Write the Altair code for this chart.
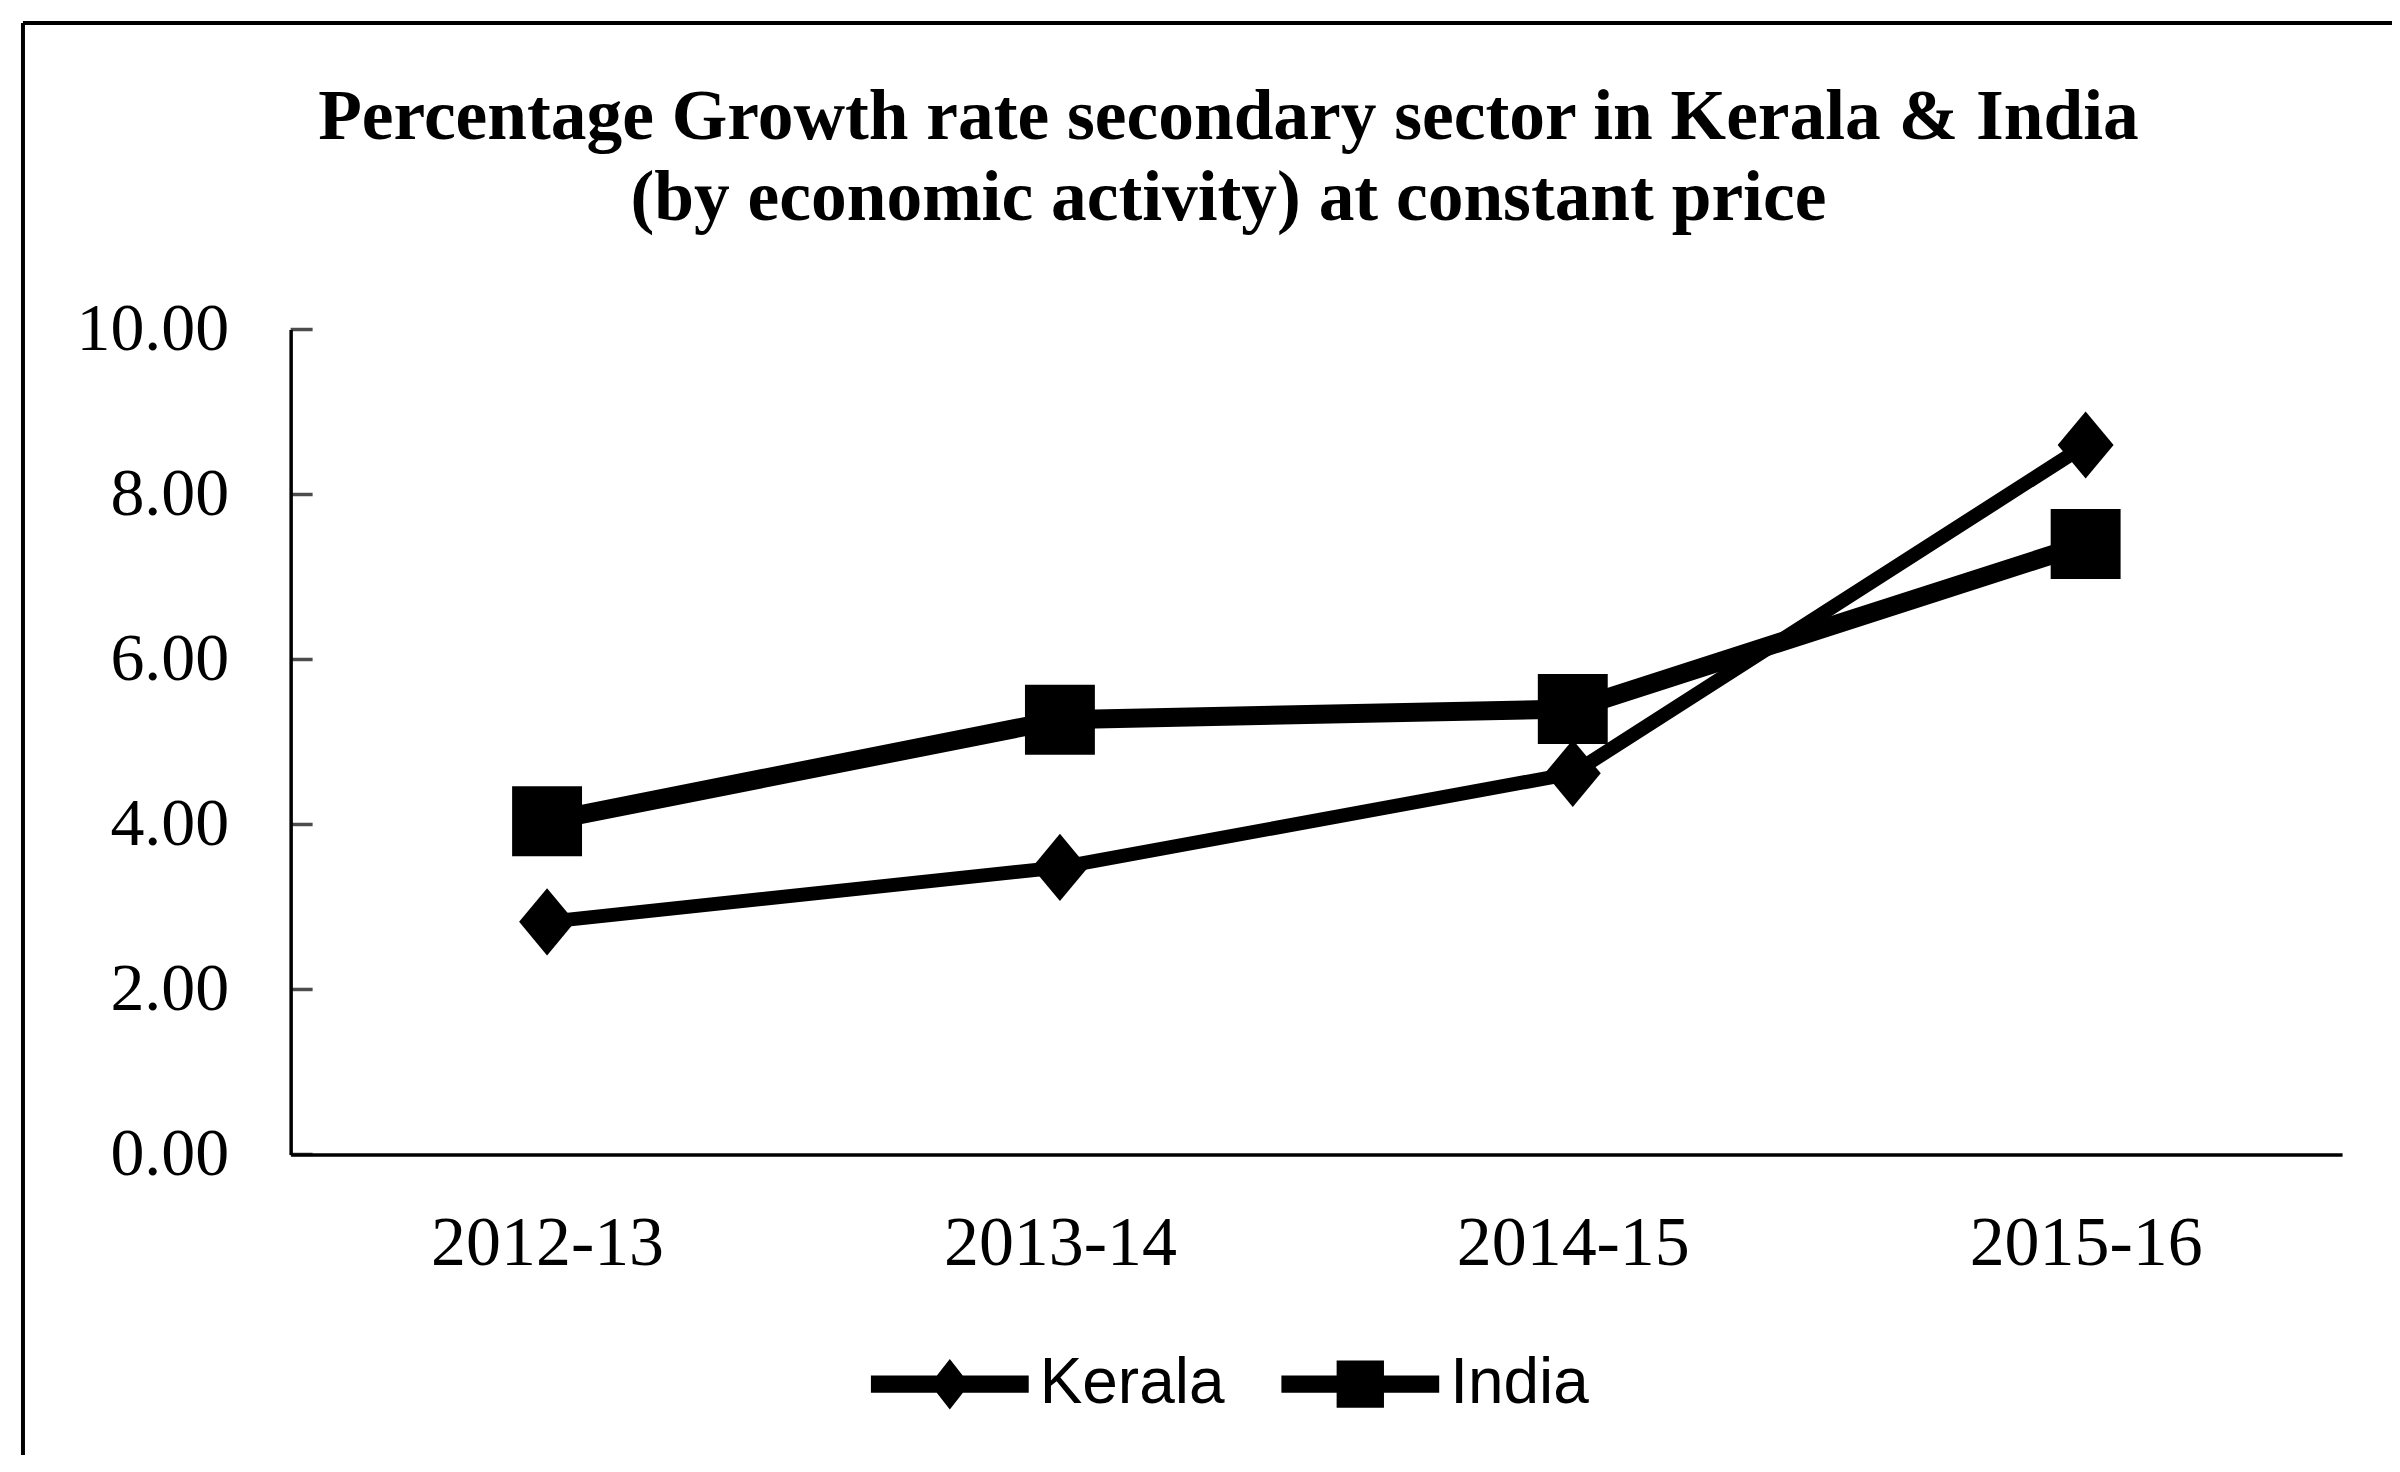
import altair as alt
import pandas as pd

# ---- data ----
years = ["2012-13", "2013-14", "2014-15", "2015-16"]
kerala = [2.82, 3.48, 4.62, 8.60]
india = [4.04, 5.27, 5.40, 7.40]
series = ["Kerala", "India"]
y_ticks = [0, 2, 4, 6, 8, 10]
title_lines = [
    "Percentage Growth rate secondary sector in Kerala & India",
    "(by economic activity) at constant price",
]

df = pd.DataFrame({
    "year": years * 2,
    "value": kerala + india,
    "series": [series[0]] * len(years) + [series[1]] * len(years),
})
tick_df = pd.DataFrame({"t": y_ticks})
one = pd.DataFrame({"a": [0]})

W, H = 2054, 826

diamond = "M0,-0.96L0.8,0L0,0.96L-0.8,0Z"
square = "M-1,-1L1,-1L1,1L-1,1Z"
leg_k = "M-1,-0.11L1,-0.11L1,0.11L-1,0.11Z M0,-0.32L0.25,0L0,0.32L-0.25,0Z"
leg_i = "M-1,-0.11L1,-0.11L1,0.11L-1,0.11Z M-0.3,-0.3L0.3,-0.3L0.3,0.3L-0.3,0.3Z"

x_enc = alt.X(
    "year:N", sort=years,
    scale=alt.Scale(type="point", padding=0.5),
    axis=alt.Axis(title=None, labelAngle=0, ticks=False, tickSize=0, grid=False,
                  domainColor="black", domainWidth=3.5, labelLimit=500,
                  labelFont="Liberation Serif", labelFontSize=70, labelColor="black",
                  labelPadding=55),
)
y_enc = alt.Y(
    "value:Q",
    scale=alt.Scale(domain=[0, 10], nice=False),
    axis=alt.Axis(title=None, values=y_ticks, format=".2f", ticks=False, tickSize=0,
                  grid=False, domainColor="black", domainWidth=3.5, labelLimit=500,
                  labelFont="Liberation Serif", labelFontSize=68, labelColor="black",
                  labelPadding=62),
)

base = alt.Chart(df)

lines = base.mark_line(color="black").encode(
    x=x_enc, y=y_enc, detail="series:N",
    strokeWidth=alt.StrokeWidth("series:N", scale=alt.Scale(domain=series, range=[14, 19]), legend=None),
)

points = base.mark_point(filled=True, color="black", opacity=1, size=4900).encode(
    x=alt.X("year:N", sort=years),
    y="value:Q",
    shape=alt.Shape("series:N", scale=alt.Scale(domain=series, range=[diamond, square]), legend=None),
)

# invisible layer that only carries the legend (line + marker symbols)
legend_layer = base.mark_point(filled=True, color="black", size=0).encode(
    x=alt.X("year:N", sort=years),
    y="value:Q",
    shape=alt.Shape(
        "series:N",
        scale=alt.Scale(domain=series, range=[leg_k, leg_i]),
        legend=alt.Legend(
            title=None, orient="none", legendX=581, legendY=977,
            direction="horizontal", symbolSize=24964, padding=0,
            labelFont="Liberation Sans", labelFontSize=64, labelColor="black",
            labelLimit=600, labelOffset=11, columnPadding=57,
            symbolStrokeWidth=0, symbolFillColor="black", symbolOpacity=1,
        ),
    ),
)

ticks = alt.Chart(tick_df).mark_tick(orient="horizontal", size=22, thickness=3.5, color="black").encode(
    y=alt.Y("t:Q"), x=alt.value(11)
)

frame_top = alt.Chart(one).mark_rule(color="black", strokeWidth=4).encode(
    x=alt.value(-268), x2=alt.value(2109), y=alt.value(-307)
)
frame_left = alt.Chart(one).mark_rule(color="black", strokeWidth=4).encode(
    x=alt.value(-268), y=alt.value(-307), y2=alt.value(1130)
)

chart = alt.layer(frame_top, frame_left, lines, points, legend_layer, ticks).resolve_scale(
    shape="independent"
).properties(
    width=W, height=H,
    background="white",
    autosize=alt.AutoSizeParams(type="none"),
    padding={"left": 283, "top": 321, "right": 50, "bottom": 300},
    title=alt.TitleParams(
        text=title_lines, font="Liberation Serif", fontSize=71.5, fontWeight="bold",
        color="black", lineHeight=81, anchor="middle", frame="group", dx=-88,
        baseline="top", offset=0, dy=215,
    ),
).configure_view(stroke="transparent", strokeWidth=0)

chart.save("out.html", embed_options={"renderer": "svg", "actions": False})
